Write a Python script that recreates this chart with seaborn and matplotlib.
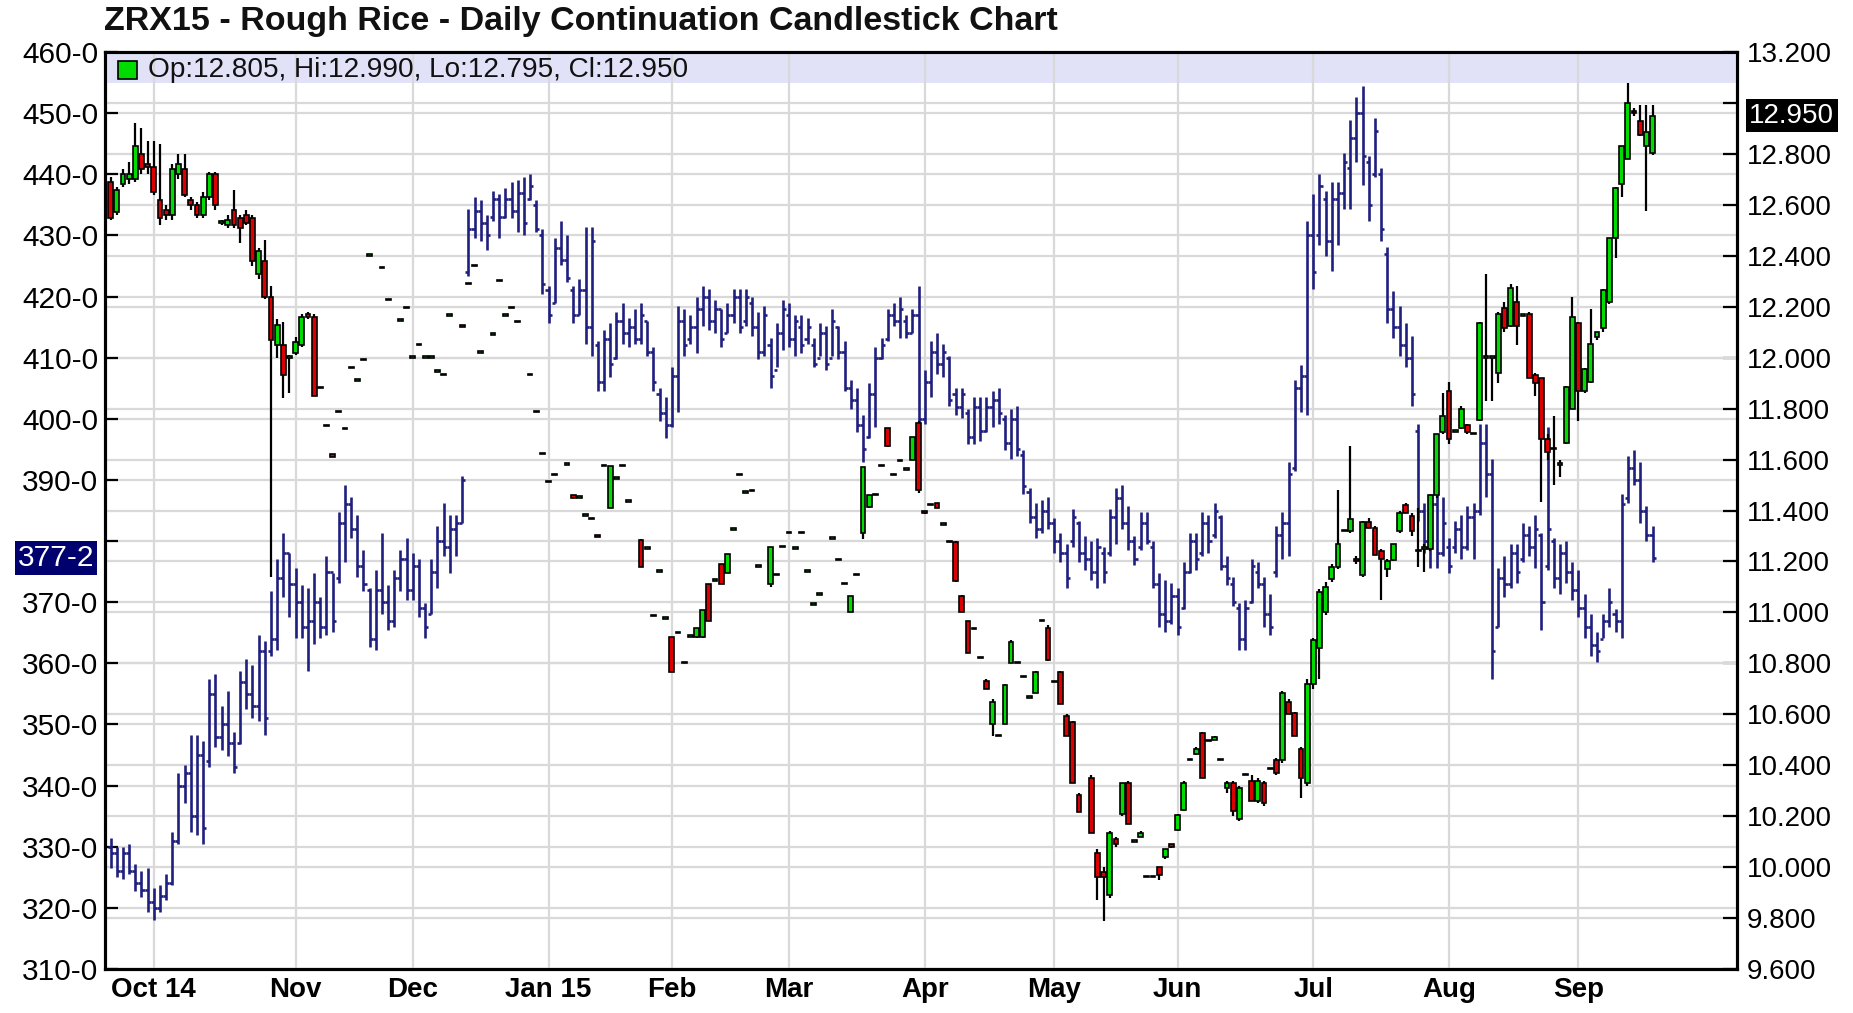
import numpy as np
import pandas as pd
import seaborn as sns
import matplotlib.pyplot as plt
from matplotlib import transforms
from matplotlib.patches import Rectangle

# ---- left axis series (blue OHLC bars), one value per trading day ----
blue_high = [
    331.4, 330.0, 330.0, 330.4, 327.1, 326.1, 326.6, 323.2, 323.7, 325.6,
    332.4, 342.0, 343.4, 348.2, 348.2, 347.3, 357.4, 358.3, 353.0, 355.4,
    348.7, 358.8, 360.7, 359.8, 364.6, 363.6, 371.8, 377.1, 381.4, 378.0,
    375.6, 372.8, 372.3, 374.7, 370.8, 377.6, 374.7, 384.8, 389.1, 387.2,
    384.3, 378.5, 372.3, 375.2, 381.4, 372.8, 375.2, 378.5, 380.5, 378.0,
    377.1, 369.9, 377.1, 382.4, 386.2, 384.3, 384.3, 390.6, 434.3, 436.3,
    435.8, 433.4, 437.2, 436.7, 437.7, 438.7, 439.1, 439.6, 440.1, 435.8,
    431.0, 421.8, 429.5, 432.4, 430.0, 421.8, 422.8, 431.4, 431.4, 412.7,
    414.6, 415.6, 417.5, 418.9, 416.5, 418.0, 418.9, 416.0, 411.7, 405.0,
    403.5, 408.4, 418.5, 418.0, 417.0, 419.9, 421.8, 421.3, 419.4, 418.0,
    418.9, 421.3, 421.3, 421.3, 419.9, 417.5, 418.5, 413.2, 415.6, 419.4,
    418.9, 417.0, 417.0, 416.5, 413.2, 415.6, 415.1, 418.0, 415.1, 412.7,
    406.4, 405.0, 400.7, 405.9, 411.7, 413.2, 418.0, 418.9, 419.9, 417.0,
    418.0, 421.8, 407.9, 412.7, 414.1, 412.2, 410.3, 405.0, 405.0, 401.6,
    403.5, 403.5, 403.5, 404.5, 405.0, 400.7, 401.6, 402.1, 394.9, 388.6,
    386.2, 386.7, 387.2, 383.8, 381.4, 379.5, 385.3, 383.3, 380.9, 380.0,
    380.5, 379.0, 385.3, 388.6, 389.1, 385.7, 380.9, 384.8, 384.8, 380.0,
    374.7, 373.7, 373.2, 372.3, 376.6, 381.4, 381.4, 384.8, 384.3, 386.2,
    384.3, 377.6, 374.2, 369.9, 370.3, 377.1, 376.6, 374.2, 371.3, 382.4,
    384.8, 393.0, 406.4, 408.8, 432.4, 436.7, 440.1, 437.2, 438.7, 438.7,
    443.5, 448.8, 452.6, 454.5, 443.0, 449.2, 441.1, 428.1, 420.9, 418.5,
    415.6, 413.6, 399.2, 386.2, 387.7, 387.7, 387.2, 380.5, 383.3, 384.3,
    385.7, 386.2, 399.2, 399.2, 393.4, 375.6, 377.6, 379.5, 379.5, 382.9,
    382.4, 384.3, 381.4, 398.7, 380.5, 379.5, 380.0, 376.6, 375.2, 371.3,
    368.0, 365.1, 368.0, 372.3, 368.9, 387.7, 393.9, 394.9, 393.0, 385.7,
    382.4,
]
blue_low = [
    326.6, 325.1, 324.7, 325.6, 322.7, 321.8, 319.4, 318.1, 319.4, 321.3,
    323.7, 330.4, 337.2, 332.4, 331.9, 330.4, 343.0, 346.3, 345.8, 344.9,
    342.0, 346.8, 352.6, 351.1, 350.6, 348.2, 361.2, 362.2, 370.8, 367.5,
    364.1, 364.1, 358.8, 363.1, 364.1, 364.6, 365.1, 373.2, 376.6, 380.5,
    374.2, 371.8, 362.7, 362.2, 368.0, 365.5, 366.0, 371.8, 370.4, 370.4,
    367.5, 364.1, 368.0, 372.3, 377.6, 374.7, 377.6, 382.9, 423.3, 429.5,
    429.0, 427.6, 432.4, 429.5, 432.9, 432.9, 430.5, 430.0, 435.8, 430.5,
    420.4, 415.6, 418.9, 425.2, 422.3, 415.6, 417.0, 412.2, 410.3, 404.5,
    404.5, 406.9, 409.8, 412.2, 411.7, 412.2, 412.2, 410.3, 404.5, 399.7,
    396.8, 398.7, 401.1, 410.3, 412.2, 410.8, 415.1, 414.6, 414.1, 411.7,
    414.1, 415.6, 414.1, 415.1, 413.6, 409.8, 410.3, 405.0, 408.4, 411.2,
    411.7, 410.3, 410.8, 412.2, 408.4, 410.3, 407.9, 410.3, 409.8, 404.5,
    401.6, 397.8, 393.0, 396.8, 398.7, 409.8, 412.7, 415.1, 413.2, 413.2,
    414.1, 397.8, 399.2, 403.5, 407.4, 406.9, 402.1, 400.7, 400.2, 395.8,
    395.8, 396.3, 397.8, 398.7, 399.2, 394.9, 393.4, 393.9, 387.7, 382.9,
    380.5, 381.4, 381.9, 378.0, 376.6, 372.3, 379.0, 376.6, 375.2, 373.7,
    372.3, 373.2, 377.6, 379.5, 381.9, 378.5, 376.1, 378.5, 379.5, 372.3,
    366.0, 365.1, 366.5, 364.6, 368.9, 374.7, 375.2, 377.6, 378.0, 380.5,
    375.2, 372.8, 369.4, 362.2, 362.2, 369.9, 372.3, 366.0, 364.6, 374.2,
    377.1, 377.6, 391.5, 401.1, 400.7, 421.3, 428.5, 426.6, 424.2, 428.5,
    434.3, 434.3, 442.0, 438.2, 432.4, 439.6, 429.0, 415.6, 413.2, 410.3,
    408.4, 402.1, 383.3, 378.0, 375.6, 375.6, 377.6, 374.7, 378.0, 377.1,
    378.5, 377.1, 384.3, 387.2, 357.4, 366.0, 370.8, 372.3, 373.2, 376.6,
    377.6, 375.6, 365.5, 375.2, 372.3, 371.3, 373.2, 370.4, 367.5, 364.1,
    361.2, 360.3, 364.1, 366.0, 365.1, 364.1, 386.2, 389.1, 382.9, 380.0,
    376.6,
]
blue_open = [
    330, 329, 326, 329, 326, 324, 323, 321, 320, 322,
    324, 331, 340, 342, 335, 345, 344, 355, 348, 350,
    347, 347, 357, 355, 353, 362, 362, 364, 374, 378,
    373, 370, 366, 367, 370, 366, 375, 374, 383, 386,
    382, 376, 372, 364, 372, 370, 367, 374, 377, 372,
    376, 369, 368, 375, 380, 379, 382, 383, 424, 431,
    434, 432, 433, 436, 433, 436, 434, 437, 436, 435,
    430, 421, 419, 428, 426, 421, 417, 421, 415, 412,
    406, 413, 410, 416, 414, 415, 413, 416, 411, 404,
    401, 399, 407, 416, 413, 415, 418, 420, 416, 418,
    414, 417, 420, 416, 419, 415, 411, 412, 408, 414,
    417, 413, 415, 413, 412, 410, 414, 410, 415, 411,
    405, 403, 399, 397, 404, 410, 413, 417, 416, 416,
    414, 417, 400, 406, 411, 409, 410, 404, 402, 401,
    397, 402, 398, 402, 403, 400, 396, 400, 394, 388,
    384, 382, 385, 383, 380, 378, 380, 383, 378, 377,
    375, 378, 378, 384, 387, 383, 380, 379, 383, 379,
    373, 368, 367, 371, 369, 375, 380, 378, 383, 381,
    384, 376, 373, 369, 364, 370, 375, 373, 368, 375,
    381, 383, 392, 405, 407, 430, 430, 436, 429, 436,
    437, 441, 446, 450, 442, 440, 440, 427, 418, 415,
    412, 410, 398, 385, 380, 386, 378, 379, 379, 382,
    379, 384, 385, 396, 391, 366, 374, 373, 378, 377,
    381, 379, 381, 376, 380, 374, 378, 375, 372, 369,
    366, 363, 364, 367, 368, 367, 387, 392, 390, 385,
    381,
]
blue_close = [
    329, 326, 329, 326, 324, 323, 321, 320, 322, 324,
    331, 340, 342, 335, 345, 333, 355, 348, 350, 347,
    343, 357, 355, 353, 362, 351, 364, 374, 378, 373,
    370, 366, 367, 370, 366, 375, 367, 383, 386, 382,
    376, 373, 364, 372, 370, 367, 374, 377, 372, 376,
    369, 366, 375, 380, 379, 382, 383, 390, 431, 434,
    432, 430, 436, 433, 436, 434, 437, 432, 438, 431,
    422, 417, 428, 426, 423, 417, 421, 415, 429, 406,
    413, 409, 416, 414, 415, 413, 417, 411, 406, 401,
    399, 407, 416, 412, 415, 418, 420, 416, 418, 413,
    417, 420, 415, 420, 415, 411, 417, 407, 414, 418,
    413, 416, 412, 415, 409, 414, 409, 416, 411, 405,
    403, 399, 395, 404, 410, 412, 417, 416, 418, 414,
    417, 400, 406, 411, 409, 411, 403, 402, 404, 397,
    402, 398, 402, 403, 401, 396, 400, 395, 389, 384,
    382, 385, 383, 380, 378, 374, 384, 378, 377, 375,
    379, 375, 384, 387, 383, 380, 377, 383, 380, 373,
    368, 367, 371, 366, 375, 380, 377, 383, 380, 385,
    376, 374, 370, 364, 369, 376, 373, 368, 366, 381,
    383, 391, 405, 407, 430, 424, 438, 429, 436, 437,
    442, 446, 450, 443, 435, 447, 431, 418, 415, 412,
    410, 404, 385, 380, 386, 378, 383, 376, 382, 379,
    384, 385, 396, 391, 362, 374, 373, 378, 375, 381,
    379, 382, 370, 382, 374, 378, 375, 372, 369, 366,
    363, 362, 367, 370, 367, 386, 392, 390, 385, 381,
    377.25,
]

# ---- right axis series: ZRX15 rough rice candles (days with a trade only) ----
rice_day = [
    0, 1, 2, 3, 4, 5, 6, 7, 8, 9,
    10, 11, 12, 13, 14, 15, 16, 17, 18, 19,
    20, 21, 22, 23, 24, 25, 26, 27, 28, 29,
    30, 31, 32, 33, 34, 35, 36, 37, 38, 39,
    40, 41, 42, 44, 45, 47, 48, 49, 50, 51,
    52, 53, 54, 55, 57, 58, 59, 60, 62, 63,
    64, 65, 66, 68, 69, 70, 71, 72, 74, 75,
    76, 77, 78, 79, 80, 81, 82, 83, 84, 86,
    87, 88, 89, 90, 91, 92, 93, 94, 95, 96,
    97, 98, 99, 100, 101, 102, 103, 104, 105, 107,
    108, 109, 110, 111, 112, 113, 114, 115, 117, 118,
    119, 120, 121, 122, 123, 124, 125, 126, 127, 128,
    129, 130, 131, 132, 133, 134, 135, 136, 137, 138,
    139, 140, 141, 142, 143, 144, 145, 146, 147, 148,
    149, 150, 151, 152, 153, 154, 155, 156, 157, 159,
    160, 161, 162, 163, 164, 165, 166, 167, 168, 169,
    170, 171, 172, 173, 174, 175, 176, 177, 178, 179,
    180, 181, 182, 183, 184, 185, 186, 187, 188, 189,
    190, 191, 192, 193, 194, 195, 196, 197, 198, 199,
    200, 201, 202, 203, 204, 205, 206, 207, 208, 209,
    210, 211, 212, 213, 214, 215, 216, 217, 218, 219,
    220, 221, 222, 223, 224, 225, 226, 227, 228, 229,
    230, 231, 232, 233, 234, 235, 236, 237, 238, 239,
    240, 241, 242, 243, 244, 245, 246, 247, 248, 249,
    250,
]
rice_open = [
    12.69, 12.57, 12.68, 12.70, 12.70, 12.80, 12.76, 12.75, 12.62, 12.58,
    12.56, 12.72, 12.74, 12.62, 12.60, 12.56, 12.63, 12.72, 12.53, 12.52,
    12.58, 12.55, 12.56, 12.55, 12.33, 12.38, 12.24, 12.05, 12.05, 12.00,
    12.02, 12.05, 12.17, 12.16, 11.88, 11.73, 11.62, 11.785, 11.72, 11.96,
    11.91, 11.99, 12.40, 12.35, 12.225, 12.145, 12.195, 12.00, 12.05, 12.00,
    12.00, 11.945, 11.93, 12.165, 12.13, 12.29, 12.36, 12.02, 12.09, 12.30,
    12.165, 12.195, 12.14, 11.93, 11.785, 11.62, 11.51, 11.54, 11.58, 11.46,
    11.45, 11.38, 11.365, 11.305, 11.575, 11.41, 11.525, 11.575, 11.435, 11.285,
    11.25, 10.985, 11.16, 10.975, 10.905, 10.92, 10.80, 10.905, 10.905, 10.905,
    11.11, 11.125, 11.19, 11.155, 11.325, 11.54, 11.47, 11.475, 11.18, 11.11,
    11.145, 11.255, 11.31, 11.25, 11.31, 11.16, 11.03, 11.07, 11.29, 11.205,
    11.11, 11.00, 11.145, 11.31, 11.415, 11.46, 11.575, 11.725, 11.54, 11.595,
    11.56, 11.60, 11.745, 11.40, 11.42, 11.43, 11.345, 11.275, 11.275, 11.065,
    10.965, 10.935, 10.82, 10.73, 10.56, 10.515, 10.56, 10.80, 10.80, 10.745,
    10.665, 10.685, 10.965, 10.94, 10.725, 10.765, 10.595, 10.57, 10.285, 10.35,
    10.055, 9.98, 9.89, 10.11, 10.21, 10.33, 10.10, 10.12, 9.96, 9.96,
    10.00, 10.04, 10.09, 10.145, 10.225, 10.42, 10.445, 10.525, 10.495, 10.50,
    10.42, 10.31, 10.33, 10.19, 10.36, 10.34, 10.26, 10.33, 10.385, 10.42,
    10.42, 10.65, 10.605, 10.465, 10.33, 10.72, 10.86, 11.00, 11.13, 11.18,
    11.32, 11.32, 11.21, 11.145, 11.355, 11.33, 11.24, 11.17, 11.205, 11.32,
    11.42, 11.38, 11.24, 11.25, 11.25, 11.46, 11.71, 11.87, 11.71, 11.725,
    11.735, 11.70, 11.755, 12.00, 12.00, 11.94, 12.195, 12.125, 12.22, 12.165,
    12.17, 11.93, 11.92, 11.68, 11.64, 11.58, 11.665, 11.80, 12.135, 11.87,
    11.905, 12.08, 12.115, 12.22, 12.47, 12.68, 12.78, 12.97, 12.93, 12.83,
    12.805,
]
rice_high = [
    12.71, 12.67, 12.74, 12.77, 12.92, 12.90, 12.85, 12.85, 12.84, 12.60,
    12.76, 12.80, 12.80, 12.63, 12.61, 12.65, 12.73, 12.73, 12.54, 12.56,
    12.66, 12.56, 12.58, 12.56, 12.43, 12.46, 12.28, 12.15, 12.14, 12.01,
    12.08, 12.17, 12.18, 12.17, 11.88, 11.73, 11.62, 11.785, 11.72, 11.96,
    11.91, 11.99, 12.40, 12.35, 12.225, 12.145, 12.195, 12.00, 12.05, 12.00,
    12.00, 11.945, 11.93, 12.165, 12.13, 12.29, 12.36, 12.02, 12.09, 12.30,
    12.165, 12.195, 12.14, 11.93, 11.785, 11.62, 11.51, 11.54, 11.58, 11.46,
    11.45, 11.38, 11.365, 11.305, 11.575, 11.575, 11.525, 11.575, 11.435, 11.29,
    11.25, 10.985, 11.16, 10.975, 10.905, 10.92, 10.80, 10.905, 10.94, 11.01,
    11.11, 11.125, 11.19, 11.23, 11.325, 11.54, 11.47, 11.475, 11.18, 11.255,
    11.145, 11.255, 11.31, 11.25, 11.31, 11.16, 11.03, 11.07, 11.29, 11.205,
    11.11, 11.065, 11.145, 11.57, 11.46, 11.46, 11.575, 11.725, 11.54, 11.595,
    11.56, 11.69, 11.75, 11.40, 11.42, 11.43, 11.345, 11.275, 11.28, 11.07,
    10.965, 10.935, 10.82, 10.74, 10.66, 10.515, 10.72, 10.89, 10.80, 10.745,
    10.665, 10.77, 10.965, 10.95, 10.725, 10.77, 10.60, 10.575, 10.29, 10.36,
    10.07, 10.00, 10.14, 10.12, 10.33, 10.34, 10.10, 10.14, 9.96, 9.96,
    10.00, 10.07, 10.09, 10.21, 10.34, 10.42, 10.47, 10.53, 10.495, 10.515,
    10.42, 10.34, 10.34, 10.32, 10.36, 10.36, 10.35, 10.34, 10.385, 10.43,
    10.69, 10.66, 10.61, 10.47, 10.74, 10.90, 11.09, 11.12, 11.19, 11.48,
    11.32, 11.655, 11.22, 11.36, 11.37, 11.34, 11.25, 11.21, 11.27, 11.40,
    11.43, 11.39, 11.41, 11.27, 11.46, 11.70, 11.86, 11.905, 11.71, 11.81,
    11.74, 11.70, 12.14, 12.33, 12.00, 12.18, 12.22, 12.29, 12.28, 12.165,
    12.18, 11.94, 11.92, 11.70, 11.77, 11.60, 11.89, 12.24, 12.14, 11.96,
    12.19, 12.10, 12.27, 12.47, 12.67, 12.83, 13.08, 12.98, 12.99, 12.99,
    12.99,
]
rice_low = [
    12.54, 12.56, 12.67, 12.68, 12.69, 12.72, 12.72, 12.64, 12.52, 12.54,
    12.54, 12.70, 12.63, 12.58, 12.55, 12.55, 12.62, 12.58, 12.52, 12.51,
    12.51, 12.45, 12.52, 12.36, 12.31, 12.23, 11.14, 12.00, 11.84, 11.86,
    12.01, 12.04, 12.15, 11.85, 11.88, 11.73, 11.61, 11.785, 11.72, 11.96,
    11.91, 11.99, 12.40, 12.35, 12.225, 12.145, 12.195, 12.00, 12.05, 12.00,
    12.00, 11.945, 11.93, 12.165, 12.12, 12.29, 12.36, 12.02, 12.09, 12.30,
    12.165, 12.195, 12.14, 11.93, 11.785, 11.62, 11.51, 11.54, 11.58, 11.45,
    11.45, 11.38, 11.365, 11.295, 11.575, 11.41, 11.525, 11.575, 11.435, 11.18,
    11.25, 10.985, 11.16, 10.975, 10.765, 10.92, 10.80, 10.905, 10.90, 10.90,
    10.965, 11.125, 11.11, 11.155, 11.325, 11.54, 11.47, 11.475, 11.18, 11.10,
    11.145, 11.255, 11.31, 11.25, 11.31, 11.16, 11.03, 11.07, 11.29, 11.205,
    11.11, 11.00, 11.145, 11.29, 11.41, 11.46, 11.575, 11.65, 11.54, 11.595,
    11.56, 11.60, 11.47, 11.385, 11.42, 11.41, 11.345, 11.275, 11.12, 11.00,
    10.84, 10.935, 10.82, 10.70, 10.515, 10.515, 10.56, 10.80, 10.80, 10.745,
    10.665, 10.685, 10.965, 10.81, 10.725, 10.64, 10.515, 10.33, 10.215, 10.135,
    9.87, 9.79, 9.88, 10.08, 10.20, 10.17, 10.10, 10.12, 9.96, 9.96,
    9.95, 10.03, 10.075, 10.14, 10.22, 10.42, 10.44, 10.35, 10.495, 10.50,
    10.42, 10.29, 10.20, 10.18, 10.36, 10.26, 10.25, 10.24, 10.385, 10.36,
    10.41, 10.60, 10.515, 10.27, 10.32, 10.70, 10.74, 10.99, 11.12, 11.17,
    11.32, 11.31, 11.19, 11.14, 11.33, 11.225, 11.05, 11.14, 11.20, 11.31,
    11.39, 11.30, 11.18, 11.16, 11.24, 11.45, 11.70, 11.66, 11.71, 11.72,
    11.70, 11.70, 11.75, 11.83, 11.83, 11.90, 12.10, 12.12, 12.05, 12.165,
    11.92, 11.85, 11.435, 11.60, 11.50, 11.53, 11.66, 11.80, 11.75, 11.86,
    11.90, 12.07, 12.10, 12.21, 12.39, 12.63, 12.78, 12.95, 12.87, 12.575,
    12.795,
]
rice_close = [
    12.55, 12.66, 12.72, 12.72, 12.83, 12.74, 12.75, 12.65, 12.55, 12.56,
    12.74, 12.76, 12.64, 12.60, 12.56, 12.63, 12.72, 12.60, 12.53, 12.54,
    12.52, 12.51, 12.53, 12.38, 12.42, 12.24, 12.07, 12.13, 11.93, 12.00,
    12.06, 12.16, 12.16, 11.85, 11.88, 11.73, 11.61, 11.785, 11.72, 11.96,
    11.91, 11.99, 12.40, 12.35, 12.225, 12.145, 12.195, 12.00, 12.05, 12.00,
    12.00, 11.945, 11.93, 12.165, 12.12, 12.29, 12.36, 12.02, 12.09, 12.30,
    12.165, 12.195, 12.14, 11.93, 11.785, 11.62, 11.51, 11.54, 11.58, 11.45,
    11.45, 11.38, 11.365, 11.295, 11.575, 11.575, 11.525, 11.575, 11.435, 11.18,
    11.25, 10.985, 11.16, 10.975, 10.765, 10.92, 10.80, 10.905, 10.94, 11.01,
    10.965, 11.125, 11.11, 11.23, 11.325, 11.54, 11.47, 11.475, 11.18, 11.255,
    11.145, 11.255, 11.31, 11.25, 11.31, 11.16, 11.03, 11.07, 11.29, 11.205,
    11.11, 11.065, 11.145, 11.57, 11.46, 11.46, 11.575, 11.655, 11.54, 11.595,
    11.56, 11.69, 11.48, 11.39, 11.42, 11.41, 11.345, 11.275, 11.125, 11.00,
    10.84, 10.935, 10.82, 10.70, 10.65, 10.515, 10.715, 10.885, 10.80, 10.745,
    10.665, 10.765, 10.965, 10.815, 10.725, 10.64, 10.515, 10.33, 10.215, 10.135,
    9.96, 9.96, 10.135, 10.09, 10.33, 10.17, 10.10, 10.135, 9.96, 9.96,
    9.97, 10.07, 10.08, 10.205, 10.33, 10.42, 10.465, 10.35, 10.495, 10.51,
    10.42, 10.33, 10.22, 10.31, 10.36, 10.26, 10.34, 10.25, 10.385, 10.37,
    10.685, 10.60, 10.515, 10.35, 10.72, 10.89, 11.08, 11.10, 11.18, 11.27,
    11.32, 11.365, 11.20, 11.355, 11.33, 11.225, 11.21, 11.20, 11.27, 11.39,
    11.39, 11.32, 11.24, 11.25, 11.46, 11.70, 11.77, 11.68, 11.71, 11.80,
    11.71, 11.70, 12.135, 12.00, 12.00, 12.17, 12.115, 12.275, 12.125, 12.165,
    11.92, 11.90, 11.68, 11.63, 11.64, 11.58, 11.885, 12.16, 11.87, 11.955,
    12.055, 12.10, 12.265, 12.47, 12.665, 12.83, 13.00, 12.96, 12.875, 12.885,
    12.95,
]

holidays = ['2014-11-27', '2014-12-25', '2015-01-01', '2015-01-19', '2015-02-16',
            '2015-04-03', '2015-05-25', '2015-07-03', '2015-09-07']
left_ticks = list(range(310, 461, 10))
right_ticks = [9.6, 9.8, 10.0, 10.2, 10.4, 10.6, 10.8, 11.0, 11.2, 11.4, 11.6,
               11.8, 12.0, 12.2, 12.4, 12.6, 12.8, 13.0, 13.2]
title = 'ZRX15 - Rough Rice - Daily Continuation Candlestick Chart'
legend_txt = 'Op:12.805, Hi:12.990, Lo:12.795, Cl:12.950'
last_blue, last_blue_lbl = 377.25, '377-2'
last_rice, last_rice_lbl = 12.95, '12.950'

assert len(blue_high) == len(blue_low) == len(blue_open) == len(blue_close) == 251
assert len(rice_day) == len(rice_open) == len(rice_high) == len(rice_low) == len(rice_close)

sns.set_style('white')
plt.rcParams['font.family'] = ['Liberation Sans', 'DejaVu Sans']

NAVY = '#1f1f80'
GREEN = '#00dc00'
RED = '#dc0000'
GRID = '#d9d9d9'

dates = pd.bdate_range('2014-09-22', '2015-09-18', freq='C', holidays=holidays)
days = np.arange(len(dates))
month_pos = [i for i in range(1, len(dates)) if dates[i].month != dates[i - 1].month]
month_lbl = []
for k, i in enumerate(month_pos):
    d = dates[i]
    if k == 0 or d.month == 1:
        month_lbl.append(d.strftime('%b %y'))
    else:
        month_lbl.append(d.strftime('%b'))

fig = plt.figure(figsize=(18.53, 10.13), dpi=100)
ax = fig.add_axes([0.0567, 0.0434, 0.8807, 0.9053])
ax_r = ax.twinx()
ax_c = ax.twinx()
ax_r.set_zorder(0)
ax.set_zorder(1)
ax_c.set_zorder(2)
ax.patch.set_visible(False)
ax_r.patch.set_visible(True)
ax_r.patch.set_facecolor('white')

# lavender info band at the top of the plot
ax.axhspan(455, 460, color='#e1e1f8', zorder=0.2, lw=0)

# blue OHLC bars (left scale)
bo, bh, bl, bc = map(np.array, (blue_open, blue_high, blue_low, blue_close))
ax.vlines(days, bl, bh, color=NAVY, lw=1.9, zorder=2)
ax.hlines(bo, days - 0.5, days, color=NAVY, lw=1.9, zorder=2)
ax.hlines(bc, days, days + 0.5, color=NAVY, lw=1.9, zorder=2)

# candles (right scale)
rd = np.array(rice_day)
ro, rh, rl, rc = map(np.array, (rice_open, rice_high, rice_low, rice_close))
ax_c.vlines(rd, rl, rh, color='black', lw=1.6, zorder=2)
body_bottom = np.minimum(ro, rc)
body_h = np.maximum(np.abs(rc - ro), 0.005)
body_col = np.where(rc >= ro, GREEN, RED)
ax_c.bar(rd, body_h, bottom=body_bottom, width=0.78, color=body_col,
         edgecolor='black', linewidth=1.2, zorder=3)

ax.set_xlim(-0.9, 263.7)
ax.set_ylim(310, 460)
ax_r.set_ylim(9.6, 13.2)
ax_c.set_ylim(9.6, 13.2)

# labels hidden behind the last-value boxes are left blank, as in the chart
ax.set_yticks(left_ticks)
ax.set_yticklabels(['' if v == 380 else f'{v}-0' for v in left_ticks])
ax_r.set_yticks(right_ticks)
ax_r.set_yticklabels(['' if abs(v - 13.0) < 1e-9 else f'{v:.3f}' for v in right_ticks])
ax_c.set_yticks([])
ax.set_xticks(month_pos)
ax.set_xticklabels(month_lbl, fontweight='bold')

ax.set_axisbelow(True)
ax_r.set_axisbelow(True)
ax.grid(True, color=GRID, lw=1.6)
ax_r.grid(True, axis='y', color=GRID, lw=1.6)
ax_c.grid(False)

ax.tick_params(axis='y', direction='in', length=9, width=1.6, labelsize=21.5,
               pad=5, colors='black')
ax.tick_params(axis='x', direction='out', length=4, width=1.6, labelsize=20,
               pad=2, colors='black')
ax_r.tick_params(axis='y', direction='in', length=10, width=1.6, labelsize=20,
                 pad=7, colors='black')
for a in (ax, ax_r, ax_c):
    for s in a.spines.values():
        s.set_color('black')
        s.set_linewidth(2.2)

# header legend inside the band
ax.add_patch(Rectangle((0.008, 0.9705), 0.0116, 0.0196, transform=ax.transAxes,
                       facecolor=GREEN, edgecolor='black', lw=1.2, zorder=4))
ax.text(0.0265, 0.9805, legend_txt, transform=ax.transAxes, ha='left',
        va='center', fontsize=20.2, color='#111111', zorder=4)

# last-value markers on both scales
tl = transforms.blended_transform_factory(ax.transAxes, ax.transData)
ax.text(-0.0065, last_blue, last_blue_lbl, transform=tl, ha='right', va='center',
        fontsize=21.5, color='white', clip_on=False, zorder=5,
        bbox=dict(facecolor='#00006e', edgecolor='none', pad=2.0))
tr = transforms.blended_transform_factory(ax_c.transAxes, ax_c.transData)
ax_c.text(1.0075, last_rice, last_rice_lbl, transform=tr, ha='left', va='center',
          fontsize=20, color='white', clip_on=False, zorder=5,
          bbox=dict(facecolor='black', edgecolor='none', pad=2.5))

fig.text(0.056, 0.979, title, ha='left', va='center', fontsize=24.5,
         fontweight='bold', color='#111111')

fig.savefig('out.png', dpi=100)
